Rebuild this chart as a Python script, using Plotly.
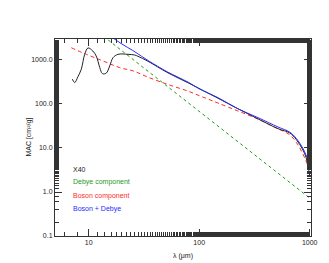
import plotly.graph_objects as go

# Observed MAC for X40
obs_wl = [7.11, 7.47, 8.0, 8.57, 9.2, 9.86, 10.9, 11.7, 12.6, 13.3, 14.4, 15.5, 16.6, 18.4,
          22.7, 26.1, 27.9, 34.4, 52.2, 79.3, 120, 148, 224, 340, 517, 659, 757, 869, 930, 970, 1000]
obs_mac = [366, 307, 420, 617, 1345, 1880, 1596, 1231, 670, 491, 501, 732, 1127, 1345,
           1345, 1296, 1213, 935, 509, 303, 177, 135, 78, 46, 27.5, 22, 15.5, 9, 6, 3.6, 2.4]

# Debye component
deb_wl = [15, 20, 30, 50, 100, 200, 500, 1000]
deb_mac = [2850, 1618, 728, 266, 68, 17.3, 2.85, 0.73]

# Boson component
bos_wl = [6.96, 9.51, 13.5, 19.1, 25.2, 34.4, 52.2, 79.3, 100, 120, 148, 224, 340, 482,
          659, 757, 869, 966, 1000]
bos_mac = [1896, 1345, 950, 670, 565, 407, 277, 196, 155, 129.5, 105, 69.5, 45.5, 29.5,
           20, 13.4, 7.3, 4.0, 3.5]

# Boson + Debye
sum_wl = [16.5, 20, 25, 30, 35, 42, 52, 80, 100, 150, 224, 340, 517, 659, 757, 869, 966, 1000]
sum_mac = [3200, 2300, 1650, 1220, 950, 720, 530, 310, 222, 137, 78, 49, 30, 23, 16.5, 9.8, 5.5, 4.8]

ytick_vals = [0.1, 1, 10, 100, 1000]
ytick_text = ["0.1", "1.0", "10.0", "100.0", "1000.0"]
xtick_vals = [10, 100, 1000]
xtick_text = ["10", "100", "1000"]

legend_labels = ["X40", "Debye component", "Boson component", "Boson + Debye"]
legend_colors = ["#222222", "#1f9a1f", "#ff2a2a", "#2a2aff"]

fig = go.Figure()
fig.add_trace(go.Scatter(x=deb_wl, y=deb_mac, mode="lines",
                         line=dict(color="#1f9a1f", width=1, dash="3px,3px")))
fig.add_trace(go.Scatter(x=bos_wl, y=bos_mac, mode="lines", line_shape="spline",
                         line=dict(color="#ff2a2a", width=1, dash="4px,3px")))
fig.add_trace(go.Scatter(x=obs_wl, y=obs_mac, mode="lines", line_shape="spline",
                         line=dict(color="#222222", width=1)))
fig.add_trace(go.Scatter(x=sum_wl, y=sum_mac, mode="lines", line_shape="spline",
                         line=dict(color="#2a2aff", width=1)))

font = dict(family="Liberation Sans, Arial, sans-serif", size=7, color="#222222")

fig.update_layout(
    width=329, height=263,
    margin=dict(l=47, r=26, t=31, b=35),
    paper_bgcolor="white", plot_bgcolor="white",
    showlegend=False,
    font=font,
)
axis_common = dict(
    showline=True, linecolor="#333333", linewidth=1, mirror="ticks",
    ticks="inside", ticklen=7, tickcolor="#333333", tickwidth=1,
    showgrid=False, zeroline=False, tickfont=font,
    minor=dict(ticks="inside", ticklen=4, tickcolor="#333333", showgrid=False),
)
fig.update_xaxes(type="log", range=[0.695, 3.012], tickvals=xtick_vals, ticktext=xtick_text,
                 **axis_common)
fig.update_yaxes(type="log", range=[-1, 3.477], tickvals=ytick_vals, ticktext=ytick_text,
                 **axis_common)

# Axis titles
fig.add_annotation(text="λ (μm)", xref="paper", yref="paper", x=0.5, y=-0.07,
                   xanchor="center", yanchor="top", showarrow=False, font=font)
fig.add_annotation(text="MAC [cm²/g]", xref="paper", yref="paper", x=-0.105, y=0.5,
                   xanchor="center", yanchor="middle", textangle=-90, showarrow=False, font=font)

# Legend text
leg_y = [161, 174, 187.5, 200.5]
for lab, col, yy in zip(legend_labels, legend_colors, leg_y):
    fig.add_annotation(text=lab, xref="paper", yref="paper",
                       x=(63 - 47) / 256, y=(228 - yy) / 197,
                       xanchor="left", yanchor="middle", showarrow=False,
                       font=dict(family=font["family"], size=7, color=col))

fig.write_html("out.html")
